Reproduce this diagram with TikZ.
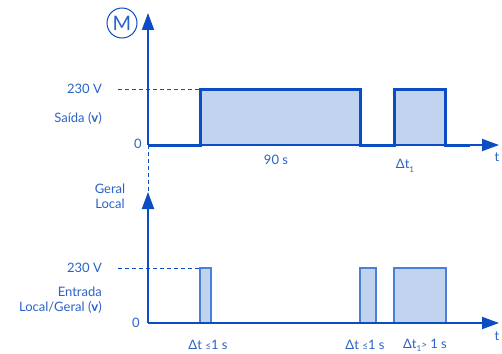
\documentclass[tikz,border=0pt]{standalone}
\usepackage{fontspec}
\setmainfont{Lato}
\usetikzlibrary{arrows.meta,positioning}
\definecolor{linecolore}{HTML}{0B4DC2}
\definecolor{pulsecolore}{HTML}{4A80D8}
\definecolor{fillcolore}{HTML}{C1D3EF}
\definecolor{textcolore}{HTML}{2A62C8}
\colorlet{linecolor}{linecolore}
\colorlet{pulsecolor}{pulsecolore}
\colorlet{fillcolor}{fillcolore}
\colorlet{textcolor}{textcolore}
\newcommand{\vsym}{{\bfseries v}}% chevron mark
\newcommand{\dlt}{Δ}
\tikzstyle{axisline} = [
    draw=linecolor,
    line width=2pt,
    -{Triangle[length=17pt,width=12pt]}
    ]
\tikzstyle{signal} = [
    draw=linecolor,
    line width=3pt,
    line join=miter
    ]
\tikzstyle{pulsefill} = [
    fill=fillcolor
    ]
\tikzstyle{lowpulse} = [
    draw=pulsecolor,
    fill=fillcolor,
    line width=2pt
    ]
\tikzstyle{guide} = [
    draw=linecolor,
    line width=1pt,
    dash pattern=on 4pt off 3pt
    ]
\tikzstyle{lbl} = [
    text=textcolor,
    font=\fontsize{13}{15}\selectfont,
    inner sep=0pt
    ]

\begin{document}
\begin{tikzpicture}[x=1pt,y=-1pt]
\useasboundingbox (0,0) rectangle (502,353);
% top chart: output
\coordinate (o1) at (148,145);
\coordinate (y1) at (148,13);
\coordinate (x1) at (499,145);
\coordinate (v1) at (118,89);
\fill[pulsefill] (200,145) rectangle (360,89);
\fill[pulsefill] (394,145) rectangle (445,89);
\draw[guide] (v1) -- (200,89);
\draw[axisline] (o1) -- (y1);
\draw[axisline] (o1) -- (x1);
\draw[signal] (o1) -- (200,145) -- (200,89) -- (360,89) -- (360,145)
    -- (394,145) -- (394,89) -- (445,89) -- (445,145) -- (470,145);
\node[circle, draw=linecolor, line width=1pt, minimum size=30pt, inner sep=0pt,
    text=textcolor, font=\fontsize{20}{22}\selectfont] (motor) at (122,23) {M};
\node[lbl, anchor=east] (volt1) at (102,89) {230 V};
\node[lbl, anchor=east] (out1) at (102,118) {Saída (\vsym)};
\node[lbl] (zero1) at (138,144) {0};
\node[lbl] (time1) at (276,160) {90 s};
\node[lbl] (delta1) at (405,166) {\dlt t\raisebox{-4pt}{\fontsize{8}{9}\selectfont 1}};
\node[lbl] (t1) at (497,157) {t};
% lower chart: input
\coordinate (o2) at (148,323);
\coordinate (y2) at (148,192);
\coordinate (x2) at (499,323);
\coordinate (v2) at (118,268);
\draw[guide] (o1) -- (y2);
\draw[guide] (v2) -- (200,268);
\draw[lowpulse] (200,323) rectangle (211,268);
\draw[lowpulse] (360,323) rectangle (376,268);
\draw[lowpulse] (394,323) rectangle (446,268);
\draw[axisline] (o2) -- (y2);
\draw[axisline] (o2) -- (x2);
\draw[draw=linecolor, line width=2.5pt] (o2) -- (470,323);
\node[lbl, align=center] (mode) at (110,196) {Geral\\Local};
\node[lbl, anchor=east] (volt2) at (102,268) {230 V};
\node[lbl, anchor=east, align=right] (in2) at (102,300) {Entrada\\Local/Geral (\vsym)};
\node[lbl] (zero2) at (136,323) {0};
\node[lbl] (short1) at (208,345) {\dlt t {\fontsize{10}{11}\selectfont ≤}1 s};
\node[lbl] (short2) at (365,345) {\dlt t {\fontsize{10}{11}\selectfont ≤}1 s};
\node[lbl] (long1) at (425,345) {\dlt t\raisebox{-3pt}{\fontsize{8}{9}\selectfont 1}{\fontsize{10}{11}\selectfont >} 1 s};
\node[lbl] (t2) at (497,336) {t};
\end{tikzpicture}
\end{document}
